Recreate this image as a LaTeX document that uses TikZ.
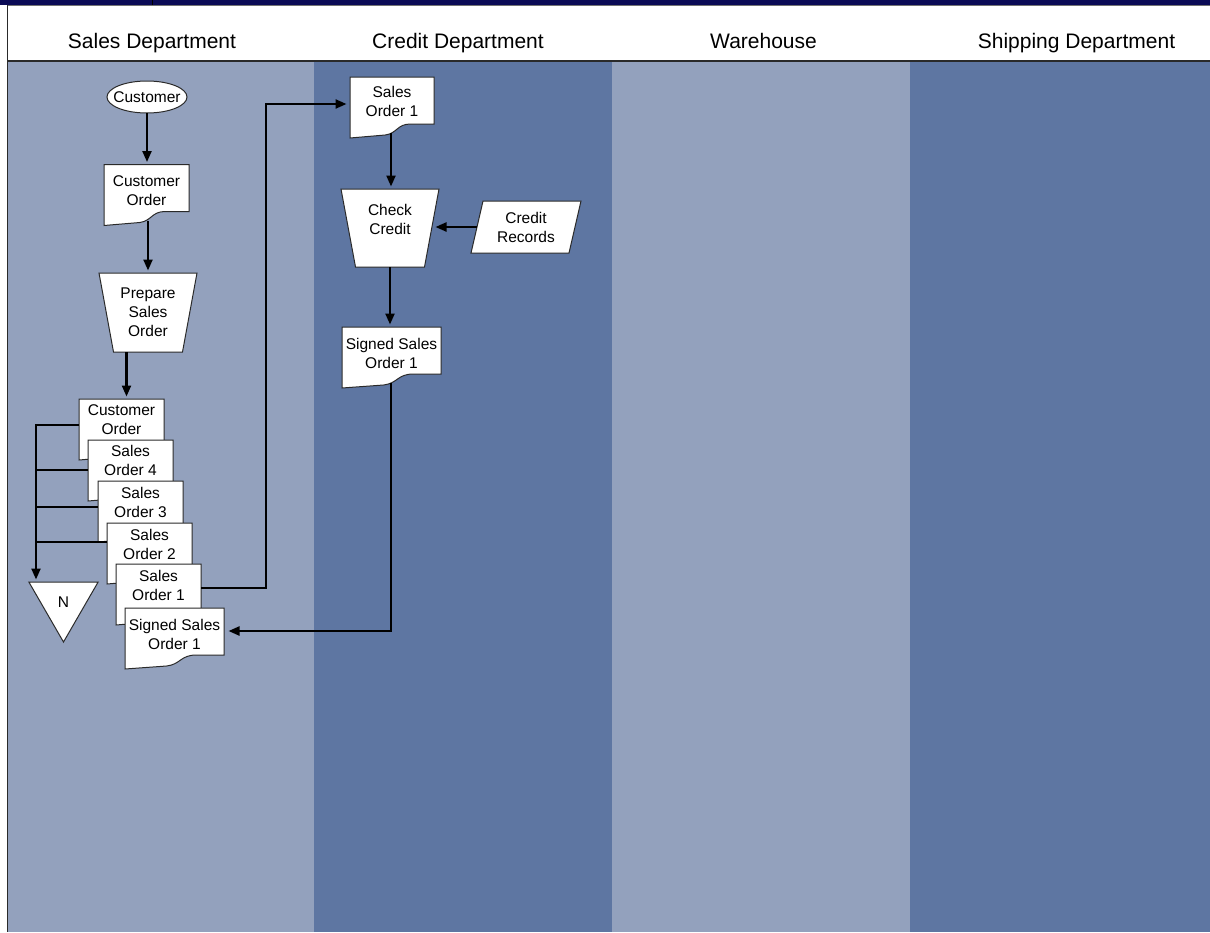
\documentclass[tikz,border=0pt]{standalone}
\usepackage{fontspec}
\setmainfont{Liberation Sans}
\usetikzlibrary{shapes.geometric,calc,arrows.meta}

\definecolor{laneLight}{HTML}{93A1BD}
\definecolor{laneDark}{HTML}{5E76A2}
\definecolor{barNavy}{HTML}{0A0A55}
\definecolor{edgeGray}{HTML}{2A2A2A}

\newcommand\boxfont{\fontsize{15.5}{19}\selectfont}
\newcommand\hdrfont{\fontsize{21}{25}\selectfont}

% registers used by the custom flowchart shapes
\newdimen\shpL \newdimen\shpR \newdimen\shpB \newdimen\shpT
\newdimen\shpW \newdimen\shpH \newdimen\shpA
\def\docwave{14pt}   % rise of the wavy bottom edge of a document
\def\opinset{14.5pt} % inset of the lower corners of a manual operation
\def\slantwd{12pt}   % horizontal slant of an input/output box

\makeatletter
\def\shp@grab{%
  \southwest \shpL=\pgf@x \shpB=\pgf@y
  \northeast \shpR=\pgf@x \shpT=\pgf@y
  \shpW=\shpR \advance\shpW by -\shpL}
\def\shp@anchors{%
  \inheritsavedanchors[from=rectangle]%
  \inheritanchorborder[from=rectangle]%
  \inheritanchor[from=rectangle]{center}%
  \inheritanchor[from=rectangle]{north}%
  \inheritanchor[from=rectangle]{south}%
  \inheritanchor[from=rectangle]{east}%
  \inheritanchor[from=rectangle]{west}%
  \inheritanchor[from=rectangle]{north east}%
  \inheritanchor[from=rectangle]{north west}%
  \inheritanchor[from=rectangle]{south east}%
  \inheritanchor[from=rectangle]{south west}}

% document: rectangle with a wavy bottom edge, lower on the left
\pgfdeclareshape{docpage}{%
  \shp@anchors
  \backgroundpath{%
    \shp@grab
    \shpH=\shpB \advance\shpH by \docwave
    \pgfpathmoveto{\pgfqpoint{\shpL}{\shpT}}%
    \pgfpathlineto{\pgfqpoint{\shpR}{\shpT}}%
    \pgfpathlineto{\pgfqpoint{\shpR}{\shpH}}%
    \pgfpathlineto{\pgfpointadd{\pgfqpoint{\shpL}{\shpH}}{\pgfqpoint{0.72\shpW}{0pt}}}%
    \pgfpathcurveto
      {\pgfpointadd{\pgfqpoint{\shpL}{\shpH}}{\pgfqpoint{0.56\shpW}{0pt}}}%
      {\pgfpointadd{\pgfqpoint{\shpL}{\shpB}}{\pgfqpoint{0.56\shpW}{4.5pt}}}%
      {\pgfpointadd{\pgfqpoint{\shpL}{\shpB}}{\pgfqpoint{0.42\shpW}{3pt}}}%
    \pgfpathlineto{\pgfqpoint{\shpL}{\shpB}}%
    \pgfpathclose
  }%
}

% manual operation: trapezoid, wide side on top
\pgfdeclareshape{manualop}{%
  \shp@anchors
  \backgroundpath{%
    \shp@grab
    \shpA=\shpR \advance\shpA by -\opinset
    \shpH=\shpL \advance\shpH by \opinset
    \pgfpathmoveto{\pgfqpoint{\shpL}{\shpT}}%
    \pgfpathlineto{\pgfqpoint{\shpR}{\shpT}}%
    \pgfpathlineto{\pgfqpoint{\shpA}{\shpB}}%
    \pgfpathlineto{\pgfqpoint{\shpH}{\shpB}}%
    \pgfpathclose
  }%
}

% data input: parallelogram leaning to the right
\pgfdeclareshape{slantbox}{%
  \shp@anchors
  \backgroundpath{%
    \shp@grab
    \shpA=\shpR \advance\shpA by -\slantwd
    \shpH=\shpL \advance\shpH by \slantwd
    \pgfpathmoveto{\pgfqpoint{\shpH}{\shpT}}%
    \pgfpathlineto{\pgfqpoint{\shpR}{\shpT}}%
    \pgfpathlineto{\pgfqpoint{\shpA}{\shpB}}%
    \pgfpathlineto{\pgfqpoint{\shpL}{\shpB}}%
    \pgfpathclose
  }%
}
\makeatother

\tikzset{
  box/.style={draw=edgeGray, line width=1pt, fill=white, inner sep=0pt,
    outer sep=0pt, font=\boxfont, align=center, text=black},
  doc/.style={box, shape=docpage, minimum height=61},
  manop/.style={box, shape=manualop, minimum width=98},
  inbox/.style={box, shape=slantbox, minimum width=110, minimum height=52},
  term/.style={box, ellipse, inner xsep=-6pt, inner ysep=0pt,
    minimum width=80, minimum height=32},
  offpage/.style={box, regular polygon, regular polygon sides=3,
    shape border rotate=180, minimum size=80},
  inner/.style={draw=none, fill=none, font=\boxfont, align=center,
    text=black, inner sep=0pt},
  hdr/.style={font=\hdrfont, text=black, inner sep=0pt, anchor=base},
  flow/.style={draw=black, line width=2.2pt, line join=miter},
  arr/.style={flow, shorten >=2.5pt, -{Triangle[length=11pt,width=9pt]}},
}

\begin{document}
\begin{tikzpicture}[x=1pt,y=-1pt]
\useasboundingbox (0,0) rectangle (1210,932);
\fill[white] (0,0) rectangle (1210,932);

% swim lanes
\fill[laneLight] (8,62) rectangle (314,932);
\fill[laneDark]  (314,62) rectangle (612,932);
\fill[laneLight] (612,62) rectangle (910,932);
\fill[laneDark]  (910,62) rectangle (1210,932);

% title bar, frame and header rule
\fill[barNavy] (0,0) rectangle (1210,4.8);
\draw[black, line width=1pt] (152.5,0) -- (152.5,4.8);
\draw[black!55, line width=0.8pt] (7,5.2) -- (1210,5.2);
\draw[edgeGray, line width=1.4pt] (7.5,5) -- (7.5,932);
\draw[edgeGray, line width=2pt] (7,61) -- (1210,61);

% lane headings
\node[hdr] (h-sales)  at (152,48)   {Sales Department};
\node[hdr] (h-credit) at (458,48)   {Credit Department};
\node[hdr] (h-ware)   at (763.5,48) {Warehouse};
\node[hdr] (h-ship)   at (1076.5,48){Shipping Department};

% sales department
\node[term] (cust) at (147,97) {Customer};
\node[doc, minimum width=85,
  label={[inner, yshift=4pt]center:{Customer\\Order}}] (co) at (146.5,195) {};
\node[manop, minimum height=79] (pso) at (148,312.5) {Prepare\\Sales\\Order};

\node[doc, minimum width=85,
  label={[inner, yshift=9.5pt]center:{Customer\\Order}}] (sco) at (121.5,429.5) {};
\node[doc, minimum width=85,
  label={[inner, yshift=10pt]center:{Sales\\Order 4}}] (so4) at (130.5,470.5) {};
\node[doc, minimum width=85,
  label={[inner, yshift=9pt]center:{Sales\\Order 3}}] (so3) at (140.5,511.5) {};
\node[doc, minimum width=85,
  label={[inner, yshift=9pt]center:{Sales\\Order 2}}] (so2) at (149.5,553.5) {};
\node[doc, minimum width=85,
  label={[inner, yshift=9pt]center:{Sales\\Order 1}}] (so1) at (158.5,594.5) {};
\node[doc, minimum width=99,
  label={[inner, yshift=4pt]center:{Signed Sales\\Order 1}}] (sso) at (174.5,638.5) {};

\node[offpage] (file) at (63.5,602) {N};

% credit department
\node[doc, minimum width=84,
  label={[inner, yshift=6.5pt]center:{Sales\\Order 1}}] (cso1) at (392,107.5) {};
\node[manop, minimum height=78,
  label={[inner, yshift=8.5pt]center:{Check\\Credit}}] (cc) at (390,228) {};
\node[inbox] (cr) at (526,227) {Credit\\Records};
\node[doc, minimum width=99,
  label={[inner, yshift=4.5pt]center:{Signed Sales\\Order 1}}] (csso) at (391.5,357.5) {};

% connection points
\coordinate (co-out)   at ($(co.south)+(1.5,-5)$);
\coordinate (sco-in)   at ($(sco.north)+(5,0)$);
\coordinate (bus)      at ($(sco.west)+(-43,0)$);
\coordinate (sco-tap)  at ($(sco.west)+(0,-4.5)$);
\coordinate (so4-tap)  at ($(so4.west)+(0,-0.5)$);
\coordinate (so3-tap)  at ($(so3.west)+(0,-4.5)$);
\coordinate (so2-tap)  at ($(so2.west)+(0,-11.5)$);
\coordinate (so1-out)  at ($(so1.east)+(0,-6.5)$);
\coordinate (cso1-in)  at ($(cso1.west)+(-1,-3.5)$);
\coordinate (cso1-out) at ($(cso1.south)+(-1,-5)$);
\coordinate (cr-out)   at ($(cr.west)+(6,0)$);
\coordinate (cc-in)    at ($(cc.east)+(-6,0)$);
\coordinate (csso-out) at ($(csso.south)+(-0.5,-5)$);
\coordinate (sso-in)   at ($(sso.east)+(2,-7.5)$);

% flow lines
\draw[arr] (cust.south) -- (cust.south |- co.north);
\draw[arr] (co-out) -- (co-out |- pso.north);
\draw[arr] (sco-in |- pso.south) -- (sco-in);
\draw[arr] (sco-tap) -| (bus |- file.north);
\draw[flow] (so4-tap) -- (so4-tap -| bus);
\draw[flow] (so3-tap) -- (so3-tap -| bus);
\draw[flow] (so2-tap) -- (so2-tap -| bus);
\draw[arr] (so1-out) -- ++(65,0) |- (cso1-in);
\draw[arr] (cso1-out) -- (cso1-out |- cc.north);
\draw[arr] (cr-out) -- (cr-out -| cc-in);
\draw[arr] (cc.south) -- (cc.south |- csso.north);
\draw[arr] (csso-out) |- (sso-in);
\end{tikzpicture}
\end{document}
